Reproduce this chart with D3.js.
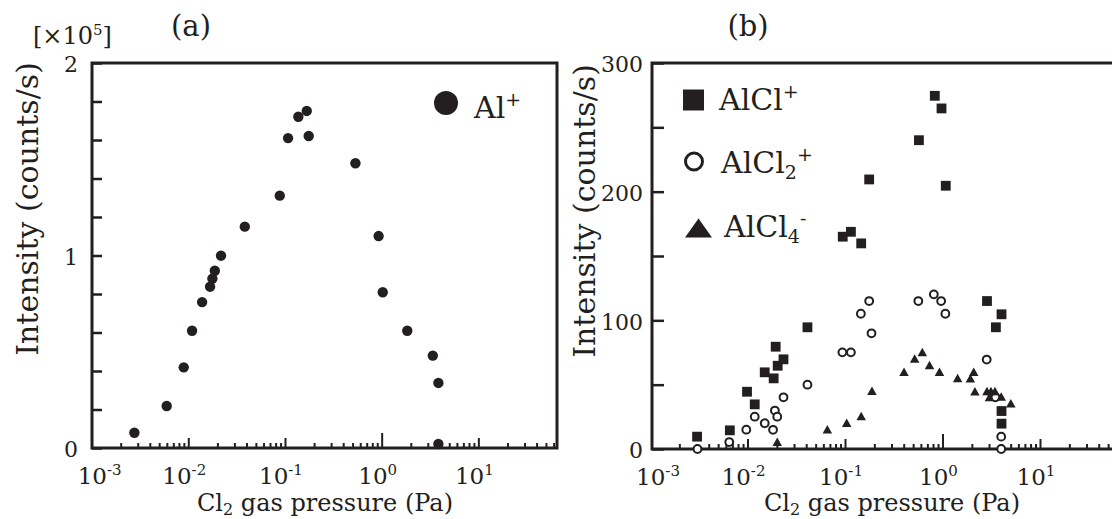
<!DOCTYPE html>
<html>
<head>
<meta charset="utf-8">
<script src="https://cdn.jsdelivr.net/npm/d3@7"></script>
<style>
  html, body { margin: 0; padding: 0; background: #fff; }
  svg { display: block; font-family: "DejaVu Serif", serif; }
</style>
</head>
<body>
<svg id="chart" width="1112" height="519"></svg>
<script>
// ---------- Data ----------
// Panel (a): Al+ intensity (x10^5 counts/s) vs Cl2 pressure (Pa)
const alPressure = [0.00277, 0.00598, 0.00897, 0.01094, 0.0139, 0.0168, 0.01775, 0.0188, 0.0218,
                    0.0384, 0.0883, 0.1076, 0.1375, 0.168, 0.176, 0.535, 0.93, 1.026, 1.84, 3.38, 3.86, 3.86];
const alIntensity = [0.079, 0.218, 0.419, 0.609, 0.758, 0.838, 0.880, 0.921, 0.999,
                     1.150, 1.311, 1.610, 1.721, 1.751, 1.621, 1.479, 1.101, 0.809, 0.609, 0.480, 0.338, 0.021];

// Panel (b): counts/s
const alclPressure = [0.00304, 0.00659, 0.00989, 0.01186, 0.01502, 0.01855, 0.01945, 0.0204, 0.0234, 0.0412,
                      0.0948, 0.115, 0.1466, 0.177, 0.573, 0.834, 0.977, 1.08, 2.86, 3.53, 4.03, 4.03, 4.03];
const alclIntensity = [9.6, 14.5, 44.5, 34.7, 59.6, 54.9, 79.5, 64.7, 69.7, 94.6,
                       165, 168.8, 159.8, 209.5, 240, 274.5, 264.7, 204.6, 115, 94.6, 104.7, 29.5, 19.7];

const alcl2Pressure = [0.00307, 0.0065, 0.00972, 0.01186, 0.01502, 0.01828, 0.0191, 0.0202, 0.0234, 0.0412,
                       0.094, 0.115, 0.1455, 0.177, 0.187, 0.565, 0.815, 0.968, 1.07, 2.84, 3.49, 4.0, 4.0];
const alcl2Intensity = [0, 5.4, 15, 25.1, 20, 14.9, 29.9, 25.1, 40.2, 50,
                        75.1, 75.1, 105.1, 115, 89.9, 115, 120.2, 115, 105.1, 69.5, 40.2, 9.6, 0];

const alcl4Pressure = [0.0202, 0.0659, 0.104, 0.1466, 0.189, 0.403, 0.518, 0.621, 0.736, 0.931,
                       1.43, 1.93, 2.09, 2.15, 2.86, 3.14, 3.45, 3.03, 4.0, 5.02];
const alcl4Intensity = [5.7, 15.3, 20.4, 25.6, 45.3, 60, 70.3, 75.4, 65.3, 60,
                        55.2, 54.9, 60, 44.8, 45.1, 45.1, 45.1, 40.4, 40.8, 35.5];

const decadeExponents = ["-3", "-2", "-1", "0", "1"];
const aYLabels = [0, 1, 2];
const bYLabels = [0, 100, 200, 300];

// ---------- Setup ----------
const ink = "#231f20";
const svg = d3.select("#chart");
svg.append("rect").attr("width", 1112).attr("height", 519).attr("fill", "#fff");

function zip(xs, ys) { return xs.map((x, i) => ({x: x, y: ys[i]})); }

function drawXAxis(g, x, y0, xmax) {
  const ticks = x.ticks().filter(v => x(v) <= xmax);
  const axis = d3.axisBottom(x).tickValues(ticks).tickSize(0).tickFormat("");
  const ag = g.append("g").attr("transform", `translate(0,${y0})`).call(axis);
  ag.select(".domain").remove();
  ag.selectAll(".tick line")
    .attr("stroke", ink).attr("stroke-width", 2)
    .attr("y2", d => {
      const e = Math.log10(d);
      if (Math.abs(e - Math.round(e)) < 1e-9) return Math.round(e) === 0 ? -15 : -10;
      return -5;
    });
  // decade labels
  decadeExponents.forEach((ex, i) => {
    const v = Math.pow(10, +ex);
    const t = g.append("text")
      .attr("x", x(v) + (i === 0 ? 8 : -4))
      .attr("y", y0 + 36)
      .attr("text-anchor", "middle")
      .attr("font-size", 23).attr("fill", ink);
    t.append("tspan").text("10");
    t.append("tspan").attr("dy", -9).attr("font-size", 15).text(ex);
  });
}

function drawYAxis(g, y, x0, values, labels, tickLen, pad) {
  const axis = d3.axisLeft(y).tickValues(values).tickSize(-tickLen).tickPadding(pad)
    .tickFormat(d => labels.some(l => Math.abs(l - d) < 1e-9) ? d3.format("d")(d) : "");
  const ag = g.append("g").attr("transform", `translate(${x0},0)`).call(axis);
  ag.select(".domain").remove();
  ag.selectAll(".tick line").attr("stroke", ink).attr("stroke-width", 2.5);
  ag.selectAll(".tick text").attr("font-size", 22).attr("fill", ink)
    .attr("font-family", "DejaVu Serif, serif").attr("dy", "0.4em");
}

function xTitle(g, cx) {
  const t = g.append("text").attr("x", cx).attr("y", 511)
    .attr("text-anchor", "middle").attr("font-size", 24).attr("fill", ink);
  t.append("tspan").text("Cl");
  t.append("tspan").attr("font-size", 16).attr("dy", 4).text("2");
  t.append("tspan").attr("dy", -4).text(" gas pressure (Pa)");
}

function yTitle(g, bx, cy) {
  g.append("text")
    .attr("transform", `translate(${bx},${cy}) rotate(-90)`)
    .attr("text-anchor", "middle").attr("font-size", 30).attr("fill", ink)
    .text("Intensity (counts/s)");
}

// ---------- Panel (a) ----------
const ga = svg.append("g");
const xa = d3.scaleLog().domain([1e-3, Math.pow(10, 1.8195)]).range([91.6, 557.6]);
const ya = d3.scaleLinear().domain([0, 2]).range([448, 63]);

drawXAxis(ga, xa, 448, 557);
drawYAxis(ga, ya, 92, d3.range(0, 2.001, 0.2), aYLabels, 10, 14);
ga.append("rect").attr("x", 92).attr("y", 63).attr("width", 465).attr("height", 385)
  .attr("fill", "none").attr("stroke", ink).attr("stroke-width", 3);

ga.selectAll("circle.al").data(zip(alPressure, alIntensity)).enter().append("circle")
  .attr("class", "al").attr("cx", d => xa(d.x)).attr("cy", d => ya(d.y))
  .attr("r", 5.2).attr("fill", ink);

// legend (a)
ga.append("circle").attr("cx", 446).attr("cy", 103).attr("r", 12).attr("fill", ink);
{
  const t = ga.append("text").attr("x", 474).attr("y", 118).attr("font-size", 30).attr("fill", ink);
  t.append("tspan").text("Al");
  t.append("tspan").attr("dy", -12).attr("font-size", 19).text("+");
}
// scale factor & title
{
  const t = ga.append("text").attr("x", 33).attr("y", 44).attr("font-size", 24).attr("fill", ink);
  t.append("tspan").text("[×10");
  t.append("tspan").attr("dy", -9).attr("font-size", 15).text("5");
  t.append("tspan").attr("dy", 9).text("]");
}
ga.append("text").attr("x", 191).attr("y", 36).attr("text-anchor", "middle")
  .attr("font-size", 29).attr("fill", ink).text("(a)");
xTitle(ga, 325);
yTitle(ga, 38, 209);

// ---------- Panel (b) ----------
const gb = svg.append("g");
const xb = d3.scaleLog().domain([1e-3, Math.pow(10, 1.8)]).range([650, 650 + 4.8 * 97.5]);
const yb = d3.scaleLinear().domain([0, 300]).range([449, 63]);

drawXAxis(gb, xb, 449, 1112);
gb.selectAll(".tick").filter(d => xb(d) < 652).remove();
drawYAxis(gb, yb, 652, d3.range(0, 301, 50), bYLabels, 12, 9);
gb.append("path")
  .attr("d", `M1120,63 H652 V449 H1120`)
  .attr("fill", "none").attr("stroke", ink).attr("stroke-width", 3);

// AlCl+ squares
const sq = 9.8;
gb.selectAll("rect.alcl").data(zip(alclPressure, alclIntensity)).enter().append("rect")
  .attr("class", "alcl")
  .attr("x", d => xb(d.x) - sq / 2).attr("y", d => yb(d.y) - sq / 2)
  .attr("width", sq).attr("height", sq).attr("fill", ink);

// AlCl2+ open circles
gb.selectAll("circle.alcl2").data(zip(alcl2Pressure, alcl2Intensity)).enter().append("circle")
  .attr("class", "alcl2").attr("cx", d => xb(d.x)).attr("cy", d => yb(d.y))
  .attr("r", 3.9).attr("fill", "#fff").attr("stroke", ink).attr("stroke-width", 2);

// AlCl4- triangles
function triPath(w, h) { return `M0,${-h / 2} L${w / 2},${h / 2} L${-w / 2},${h / 2} Z`; }
gb.selectAll("path.alcl4").data(zip(alcl4Pressure, alcl4Intensity)).enter().append("path")
  .attr("class", "alcl4")
  .attr("transform", d => `translate(${xb(d.x)},${yb(d.y)})`)
  .attr("d", triPath(9.5, 8.5)).attr("fill", ink);

// legend (b)
gb.append("rect").attr("x", 683).attr("y", 89.5).attr("width", 21).attr("height", 21).attr("fill", ink);
{
  const t = gb.append("text").attr("x", 719).attr("y", 110).attr("font-size", 30).attr("fill", ink);
  t.append("tspan").text("AlCl");
  t.append("tspan").attr("dy", -12).attr("font-size", 19).text("+");
}
gb.append("circle").attr("cx", 694).attr("cy", 161.5).attr("r", 8.5)
  .attr("fill", "#fff").attr("stroke", ink).attr("stroke-width", 3);
{
  const t = gb.append("text").attr("x", 721).attr("y", 173).attr("font-size", 30).attr("fill", ink);
  t.append("tspan").text("AlCl");
  t.append("tspan").attr("dy", 6).attr("font-size", 19).text("2");
  t.append("tspan").attr("dy", -18).attr("font-size", 19).text("+");
}
gb.append("path").attr("transform", "translate(698.5,228)").attr("d", triPath(27, 19)).attr("fill", ink);
{
  const t = gb.append("text").attr("x", 724).attr("y", 237).attr("font-size", 30).attr("fill", ink);
  t.append("tspan").text("AlCl");
  t.append("tspan").attr("dy", 6).attr("font-size", 19).text("4");
  t.append("tspan").attr("dy", -18).attr("font-size", 19).text("-");
}
gb.append("text").attr("x", 748).attr("y", 36).attr("text-anchor", "middle")
  .attr("font-size", 29).attr("fill", ink).text("(b)");
xTitle(gb, 892);
yTitle(gb, 595, 211);
</script>
</body>
</html>
